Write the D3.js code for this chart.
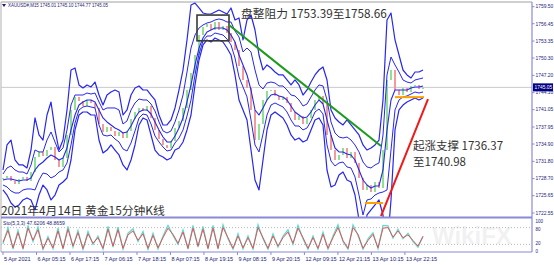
<!DOCTYPE html>
<html><head><meta charset="utf-8">
<script src="https://cdn.jsdelivr.net/npm/d3@7"></script>
<style>body{margin:0;background:#fff;}svg{display:block;}</style>
</head><body>
<svg id="c" width="554" height="265"></svg>
<script>
// ---- data ----
const closes = [1728.82,1729.18,1728.28,1727.74,1728.64,1729.00,1728.28,1729.89,1732.58,1733.48,
1732.76,1733.83,1734.37,1732.04,1730.79,1732.40,1736.52,1741.00,1743.33,1742.61,
1741.71,1742.79,1742.25,1741.36,1738.49,1737.06,1737.95,1737.24,1736.34,1737.06,
1735.98,1737.24,1739.39,1740.64,1741.36,1740.82,1741.71,1739.57,1737.42,1735.80,
1734.73,1734.19,1735.45,1737.77,1739.03,1741.36,1744.58,1747.62,1750.85,1754.43,
1755.86,1756.40,1755.33,1756.76,1755.33,1756.04,1754.79,1753.18,1751.74,1748.88,
1746.37,1744.94,1741.00,1735.62,1738.49,1742.79,1744.40,1744.58,1743.51,1742.79,
1743.33,1742.25,1740.64,1739.21,1739.92,1738.49,1739.57,1741.00,1742.79,1743.51,
1742.07,1736.52,1733.83,1732.04,1732.94,1734.19,1732.40,1733.48,1731.51,1728.82,
1726.67,1727.56,1726.31,1728.10,1727.03,1733.83,1746.37,1748.16,1744.58,1743.68,
1744.94,1744.22,1745.30,1745.48,1744.76,1745.05];
const bandUpper = [1730.25,1734.73,1735.62,1732.04,1731.15,1731.15,1730.61,1733.83,1739.57,1736.52,
1735.62,1740.10,1742.43,1737.42,1733.83,1735.62,1741.00,1748.16,1748.52,1745.48,
1744.94,1745.48,1745.12,1746.01,1743.68,1741.89,1743.68,1744.22,1744.58,1744.22,
1740.10,1741.00,1743.68,1744.94,1745.30,1744.58,1744.58,1743.68,1742.79,1740.10,
1738.31,1738.31,1739.21,1741.36,1744.58,1748.16,1753.54,1759.80,1760.16,1759.27,
1758.37,1758.19,1758.19,1758.55,1758.91,1758.55,1758.19,1759.27,1757.12,1757.48,
1753.54,1757.12,1758.01,1755.33,1750.85,1748.16,1749.06,1748.52,1747.80,1747.27,
1747.27,1746.37,1745.48,1746.37,1745.48,1743.68,1744.58,1746.01,1747.27,1748.16,
1748.70,1746.37,1741.00,1739.57,1738.85,1738.31,1739.21,1738.31,1737.42,1736.52,
1734.73,1733.83,1734.19,1734.73,1735.62,1742.79,1757.12,1758.37,1753.54,1750.85,
1748.16,1747.27,1746.73,1747.80,1747.80,1748.16];
const innerUpper = [1729.53,1730.61,1730.97,1730.25,1729.89,1729.89,1729.53,1731.15,1733.83,1733.48,
1733.48,1735.62,1737.06,1735.27,1733.48,1734.19,1737.42,1741.89,1743.68,1743.68,
1743.68,1744.04,1743.86,1744.04,1742.43,1741.00,1741.36,1741.36,1741.36,1741.00,
1738.49,1739.03,1741.00,1742.25,1742.97,1742.79,1742.79,1742.07,1740.82,1738.85,
1737.24,1736.88,1737.24,1738.85,1741.00,1743.68,1747.80,1752.10,1754.43,1755.68,
1756.22,1756.58,1756.76,1757.12,1757.30,1757.12,1756.76,1756.76,1755.15,1754.07,
1751.39,1752.10,1751.39,1748.16,1745.48,1744.76,1745.83,1746.01,1745.83,1745.30,
1745.30,1744.58,1743.68,1743.51,1742.79,1741.71,1742.07,1743.33,1744.58,1745.48,
1745.30,1742.79,1738.85,1736.88,1736.16,1735.98,1736.16,1735.62,1734.73,1733.48,
1731.68,1730.79,1730.61,1731.15,1731.51,1736.52,1747.27,1750.49,1749.06,1747.80,
1746.37,1746.01,1745.83,1746.37,1746.55,1746.73];
const bandMiddle = [1728.46,1728.64,1728.64,1728.46,1728.28,1728.46,1728.46,1728.82,1730.25,1731.15,
1731.68,1732.40,1732.94,1732.58,1732.04,1732.40,1734.19,1737.42,1740.10,1741.89,
1742.43,1742.79,1742.79,1742.43,1741.00,1739.57,1738.85,1738.31,1737.77,1737.42,
1736.88,1737.06,1738.13,1739.57,1740.64,1741.00,1741.00,1740.28,1738.85,1737.42,
1736.16,1735.27,1735.27,1736.34,1737.77,1739.57,1742.43,1745.48,1749.06,1752.10,
1753.89,1754.97,1755.33,1755.68,1755.68,1755.68,1755.33,1754.43,1753.18,1750.85,
1749.06,1747.27,1744.58,1741.00,1740.10,1741.36,1742.79,1743.68,1743.86,1743.51,
1743.33,1742.79,1741.71,1740.64,1740.10,1739.57,1739.74,1740.64,1741.89,1742.79,
1742.07,1739.21,1736.52,1734.19,1733.48,1733.48,1733.12,1732.94,1732.04,1730.25,
1728.46,1727.56,1727.03,1727.39,1727.39,1730.25,1737.42,1742.79,1744.58,1744.58,
1744.58,1744.58,1744.94,1745.12,1745.12,1745.30];
const innerLower = [1727.56,1727.21,1726.49,1726.13,1726.13,1726.67,1726.85,1726.85,1726.67,1728.46,
1729.71,1729.53,1728.82,1729.18,1729.89,1730.25,1731.51,1734.73,1738.67,1741.00,
1741.54,1741.71,1741.54,1741.36,1738.31,1736.52,1736.34,1736.52,1735.80,1735.27,
1734.01,1733.65,1735.09,1737.24,1739.57,1740.28,1740.10,1738.49,1736.34,1735.27,
1734.37,1733.65,1733.83,1735.09,1735.98,1737.42,1739.92,1742.79,1747.27,1751.03,
1753.36,1754.25,1754.25,1754.79,1754.61,1754.43,1753.71,1752.64,1750.31,1746.91,
1745.12,1743.33,1739.21,1734.73,1733.48,1736.70,1740.10,1741.89,1742.25,1741.89,
1741.54,1740.64,1739.21,1738.13,1738.13,1737.42,1737.77,1739.03,1740.64,1741.18,
1740.28,1734.73,1731.86,1730.97,1731.51,1731.68,1730.79,1730.61,1729.00,1725.77,
1722.19,1724.88,1725.06,1725.77,1726.13,1726.31,1726.67,1733.83,1741.00,1742.79,
1743.33,1743.51,1743.86,1744.22,1744.04,1744.22];
const bandLower = [1726.67,1725.77,1724.34,1723.62,1723.98,1724.88,1725.24,1724.88,1723.09,1725.77,
1727.56,1726.67,1724.88,1725.77,1727.56,1728.10,1728.82,1732.04,1737.42,1740.10,
1740.64,1740.64,1740.10,1740.10,1735.62,1733.30,1733.83,1734.73,1733.83,1732.94,
1731.15,1730.25,1732.04,1734.73,1738.31,1739.57,1739.21,1736.52,1733.83,1732.94,
1732.58,1732.04,1732.40,1733.83,1734.19,1735.27,1737.42,1740.10,1745.48,1749.95,
1752.64,1753.54,1753.18,1753.89,1753.54,1753.18,1752.10,1750.85,1747.27,1742.79,
1741.00,1739.21,1733.83,1728.46,1726.67,1732.04,1737.42,1740.10,1740.64,1740.10,
1739.57,1738.31,1736.52,1735.62,1735.98,1735.27,1735.62,1737.42,1739.21,1739.57,
1738.31,1730.25,1727.21,1727.56,1729.36,1729.89,1728.46,1728.10,1725.77,1721.30,
1715.92,1722.19,1723.09,1723.98,1724.88,1722.19,1715.92,1724.88,1737.42,1741.00,
1741.89,1742.43,1742.79,1743.15,1742.79,1743.15];
const stochMain = [22,80,3,70,2,88,30,82,2,48,4,78,3,84,10,70,2,66,20,50,3,84,10,82,3,60,76,30,66,2,
60,4,50,88,52,20,72,3,88,10,84,3,88,3,90,40,3,58,4,50,3,90,40,3,58,10,50,72,20,88,
40,3,50,3,64,3,50,90,30,3,90,52,3,40,62,4,88,86,42,74,40,60,30,10,48];
const stochSignal = [28,70,8,62,6,78,35,72,5,42,8,68,6,74,14,62,5,58,24,44,6,74,14,72,6,54,68,35,58,6,
52,8,44,78,56,24,64,6,78,14,74,6,78,6,80,44,6,50,8,44,6,80,44,6,50,14,44,64,24,78,
44,6,44,6,56,6,44,80,34,6,80,56,6,34,56,8,78,80,46,68,44,54,34,14,49];
const priceTicks = [1759.50,1756.45,1753.35,1750.30,1747.20,1744.10,1741.05,1737.95,1734.90,1731.80,1728.70,1725.65,1722.55];
const timeLabels = ["5 Apr 2021","6 Apr 05:15","6 Apr 17:15","7 Apr 06:15","7 Apr 18:15","8 Apr 07:15","8 Apr 19:15","9 Apr 08:15","9 Apr 20:15","12 Apr 09:15","12 Apr 21:15","13 Apr 10:15","13 Apr 22:15"];
const stochLevels = [100,80,20,0];
const lastPrice = 1745.05;
const header = "XAUUSD#,M15 1745.01 1745.10 1744.77 1745.05";
const stochHeader = "Sto(5,3,3) 47.6206 48.8659";
// annotations (price / bar-index positions)
const resistBox = {i0:48.5, i1:56.5, lo:1753.39, hi:1758.0};
const greenTrend = [{i:56.5,p:1756.22},{i:94.5,p:1734.55}];
const redTrend = [{i:94.5,p:1721.99},{i:106.25,p:1742.96}];
const orangeLines = [{i0:90.5,i1:95,p:1724.34},{i0:98,i1:105.25,p:1743.3}];
const title = "2021年4月14日 黄金15分钟K线";
const note1 = "盘整阻力 1753.39至1758.66";
const note2 = ["起涨支撑 1736.37","至1740.98"];

// ---- layout ----
const svg = d3.select("#c");
const L = 1, R = 532, T = 2, B = 217, ST = 219, SB = 252;
const n = closes.length;
const x = d3.scaleLinear().domain([0, n-1]).range([3, 423]);
const y = d3.scaleLinear().domain([1721.83, 1760.34]).range([B, T]);
const ys = d3.scaleLinear().domain([0,100]).range([250, 222]);
const xs = d3.scaleLinear().domain([0, stochMain.length-1]).range([3, 423]);
const navy = "#1b1b78";
const sans = "Liberation Sans, Arial, sans-serif";
const cjk = "'Noto Sans CJK SC', 'Noto Sans', sans-serif";
function fit(sel, w){
  const fs = +sel.attr("font-size");
  const len = sel.node().getComputedTextLength();
  if (len > 0) sel.attr("font-size", fs * w / len);
  return sel;
}

svg.append("defs").append("clipPath").attr("id","mc").append("rect")
  .attr("x",L).attr("y",T).attr("width",R-L).attr("height",B-T);
svg.select("defs").append("clipPath").attr("id","sc").append("rect")
  .attr("x",L).attr("y",ST).attr("width",R-L).attr("height",SB-ST);

svg.append("rect").attr("x",0).attr("y",0).attr("width",554).attr("height",265).attr("fill","#fff");
svg.append("line").attr("x1",L).attr("x2",R).attr("y1",T).attr("y2",T).attr("stroke","#a0a0a0");
svg.append("line").attr("x1",L).attr("x2",L).attr("y1",T).attr("y2",SB).attr("stroke","#b0b0b0");

const main = svg.append("g").attr("clip-path","url(#mc)");
main.append("line").attr("x1",L).attr("x2",R).attr("y1",y(lastPrice)).attr("y2",y(lastPrice))
  .attr("stroke","#c9c9c9").attr("stroke-width",1);

// candles
const opens = closes.map((c,i)=> i===0 ? c : closes[i-1]);
main.selectAll("rect.cd").data(closes).join("rect").attr("class","cd")
  .attr("x",(d,i)=>x(i)-1).attr("width",2)
  .attr("y",(d,i)=>y(Math.max(d,opens[i])))
  .attr("height",(d,i)=>Math.max(1,Math.abs(y(d)-y(opens[i]))))
  .attr("fill",(d,i)=> d>=opens[i] ? "#8fe08f" : "#f39a9a");

// bands
const line = arr => d3.line().x((d,i)=>x(i)).y(d=>y(d))(arr);
[[bandUpper,1.2],[innerUpper,1],[bandMiddle,1.1],[innerLower,1],[bandLower,1.2]].forEach(([a,w])=>{
  main.append("path").attr("d",line(a)).attr("fill","none").attr("stroke","#2626f0")
    .attr("stroke-width",w).attr("stroke-linejoin","round");
});

// resistance box
main.append("rect").attr("x",x(resistBox.i0)).attr("y",y(resistBox.hi))
  .attr("width",x(resistBox.i1)-x(resistBox.i0)).attr("height",y(resistBox.lo)-y(resistBox.hi))
  .attr("fill","none").attr("stroke","#3a3a3a").attr("stroke-width",1.6);
main.append("line").attr("x1",x(greenTrend[0].i)).attr("y1",y(greenTrend[0].p))
  .attr("x2",x(greenTrend[1].i)).attr("y2",y(greenTrend[1].p)).attr("stroke","#1e9a1e").attr("stroke-width",2);
main.append("line").attr("x1",x(redTrend[0].i)).attr("y1",y(redTrend[0].p))
  .attr("x2",x(redTrend[1].i)).attr("y2",y(redTrend[1].p)).attr("stroke","#f01818").attr("stroke-width",2);
orangeLines.forEach(o=>{
  main.append("line").attr("x1",x(o.i0)).attr("x2",x(o.i1)).attr("y1",y(o.p)).attr("y2",y(o.p))
    .attr("stroke","#ffa200").attr("stroke-width",2);
});

// watermark
svg.append("text").attr("x",432).attr("y",244).text("WikiFX").attr("font-size",24).attr("font-weight","bold")
  .attr("font-family",sans).attr("fill","#000").attr("opacity",0.05);

// right axis
svg.append("line").attr("x1",R).attr("x2",R).attr("y1",T).attr("y2",SB).attr("stroke","#8a8ad8").attr("stroke-width",1.2);
const ax = svg.append("g");
priceTicks.forEach(p=>{
  ax.append("line").attr("x1",R).attr("x2",R+2.5).attr("y1",y(p)).attr("y2",y(p)).attr("stroke","#8a8ad8");
  ax.append("text").attr("x",R+3.5).attr("y",y(p)+1.8).text(p.toFixed(2))
    .attr("font-size",4.9).attr("font-family",sans).attr("fill",navy);
});
svg.append("rect").attr("x",R+1).attr("y",y(lastPrice)-4).attr("width",20).attr("height",8).attr("fill","#000080");
svg.append("text").attr("x",R+2.5).attr("y",y(lastPrice)+1.8).text(lastPrice.toFixed(2))
  .attr("font-size",4.9).attr("font-family",sans).attr("fill","#fff");

svg.append("line").attr("x1",L).attr("x2",R).attr("y1",B+0.5).attr("y2",B+0.5).attr("stroke","#8a8ad8").attr("stroke-width",2);
svg.append("line").attr("x1",L).attr("x2",R).attr("y1",SB).attr("y2",SB).attr("stroke","#8a8ad8").attr("stroke-width",1.2);

// stochastic
const sg = svg.append("g").attr("clip-path","url(#sc)");
[80,20].forEach(v=>{
  sg.append("line").attr("x1",L).attr("x2",R).attr("y1",ys(v)).attr("y2",ys(v))
    .attr("stroke","#b8b8b8").attr("stroke-dasharray","1,2");
});
const sline = arr => d3.line().x((d,i)=>xs(i)).y(d=>ys(d))(arr);
sg.append("path").attr("d",sline(stochMain)).attr("fill","none").attr("stroke","#5fd8d0").attr("stroke-width",1.2);
sg.append("path").attr("d",sline(stochSignal)).attr("fill","none").attr("stroke","#e05555").attr("stroke-width",1);
const lvlDy = {100:0.5, 80:3.3, 20:0.5, 0:3.3};
stochLevels.forEach(v=>{
  svg.append("text").attr("x",R+3.5).attr("y",ys(v)+lvlDy[v]).text(v)
    .attr("font-size",4.5).attr("font-family",sans).attr("fill",navy);
});

// time axis
timeLabels.forEach((t,k)=>{
  const xx = x(k*(n-1)/12.54);
  svg.append("line").attr("x1",xx).attr("x2",xx).attr("y1",SB).attr("y2",SB+3).attr("stroke","#8a8ad8");
  svg.append("text").attr("x",xx+1).attr("y",261).text(t)
    .attr("font-size",5.5).attr("font-family",sans).attr("fill",navy);
});

// headers
svg.append("path").attr("d","M2,4 L6,4 L4,7 Z").attr("fill",navy);
fit(svg.append("text").attr("x",8).attr("y",7).text(header)
  .attr("font-size",4.6).attr("font-family",sans).attr("fill",navy), 100);
fit(svg.append("text").attr("x",3).attr("y",224.5).text(stochHeader)
  .attr("font-size",4.6).attr("font-family",sans).attr("fill",navy), 62);

// annotations
fit(svg.append("text").attr("x",241).attr("y",18).text(note1).attr("font-size",12).attr("font-family",cjk).attr("fill","#333"), 146);
note2.forEach((t,k)=>{
  svg.append("text").attr("x",413).attr("y",150+k*15.5).text(t).attr("font-size",11.5).attr("font-family",cjk).attr("fill","#333");
});
fit(svg.append("text").attr("x",1).attr("y",215).text(title).attr("font-size",12).attr("font-family",cjk).attr("fill","#333"), 164);
</script>
</body></html>
